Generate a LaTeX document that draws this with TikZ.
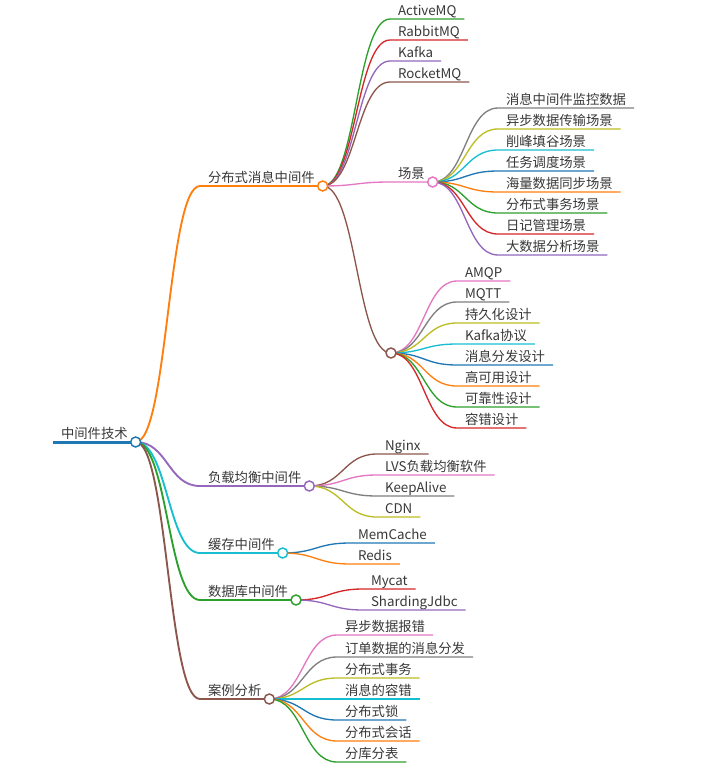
\documentclass[tikz,border=0pt]{standalone}
\usepackage{fontspec}
\setmainfont{Noto Sans CJK SC}
\usetikzlibrary{calc}
\definecolor{cblue}{HTML}{1F77B4}
\definecolor{corange}{HTML}{FF7F0E}
\definecolor{cgreen}{HTML}{2CA02C}
\definecolor{cred}{HTML}{D62728}
\definecolor{cpurple}{HTML}{9467BD}
\definecolor{cbrown}{HTML}{8C564B}
\definecolor{cpink}{HTML}{E377C2}
\definecolor{cgray}{HTML}{7F7F7F}
\definecolor{colive}{HTML}{BCBD22}
\definecolor{ccyan}{HTML}{17BECF}
\tikzset{
  lbl/.style={anchor=south west, inner xsep=6pt, inner ysep=1.5pt, outer sep=0pt,
    text height=.85em, text depth=.15em, text=black!78, font=\fontsize{10}{12}\selectfont},
  dot/.style={circle, draw=#1, fill=white, line width=1.1pt, minimum size=7.5pt, inner sep=0pt},
  e1/.style={line width=1.4pt},
  e2/.style={line width=1pt},
  link/.style={to path={.. controls ($(\tikztostart)!.5!(\tikztostart -| \tikztotarget)$)
    and ($(\tikztotarget)!.5!(\tikztotarget -| \tikztostart)$) .. (\tikztotarget)}},
}
\begin{document}
\begin{tikzpicture}[x=0.75pt, y=-0.75pt]
    \useasboundingbox (0,0) rectangle (701,772);
    % root
    \node[lbl] (mw) at (53,442) {中间件技术};
    \draw[cblue, line width=2.25pt] (mw.south west) -- (mw.south east);
    % level 1
    \node[lbl] (dmq) at (200,186) {分布式消息中间件};
    \node[lbl] (lb) at (200,486) {负载均衡中间件};
    \node[lbl] (cache) at (200,553) {缓存中间件};
    \node[lbl] (db) at (200,600) {数据库中间件};
    \node[lbl] (case) at (200,699) {案例分析};
    \draw[corange, e1] (mw.south east) to[link] (dmq.south west) -- (dmq.south east);
    \draw[cpurple, e1] (mw.south east) to[link] (lb.south west) -- (lb.south east);
    \draw[ccyan, e1] (mw.south east) to[link] (cache.south west) -- (cache.south east);
    \draw[cgreen, e1] (mw.south east) to[link] (db.south west) -- (db.south east);
    \draw[cbrown, e1] (mw.south east) to[link] (case.south west) -- (case.south east);
    % distributed message middleware
    \node[lbl] (amq) at (390,19) {ActiveMQ};
    \node[lbl] (rmq) at (390,40) {RabbitMQ};
    \node[lbl] (kafka) at (390,61) {Kafka};
    \node[lbl] (rkmq) at (390,82) {RocketMQ};
    \node[lbl] (scene) at (390,182) {场景};
    \coordinate (proto) at (391,353);
    \draw[cgreen, e2] (dmq.south east) to[link] (amq.south west) -- (amq.south east);
    \draw[cred, e2] (dmq.south east) to[link] (rmq.south west) -- (rmq.south east);
    \draw[cpurple, e2] (dmq.south east) to[link] (kafka.south west) -- (kafka.south east);
    \draw[cbrown, e2] (dmq.south east) to[link] (rkmq.south west) -- (rkmq.south east);
    \draw[cpink, e2] (dmq.south east) to[link] (scene.south west) -- (scene.south east);
    \draw[cbrown, e2] (dmq.south east) to[link] (proto);
    % scenes
    \node[lbl] (sc1) at (498,108) {消息中间件监控数据};
    \node[lbl] (sc2) at (498,129) {异步数据传输场景};
    \node[lbl] (sc3) at (498,150) {削峰填谷场景};
    \node[lbl] (sc4) at (498,171) {任务调度场景};
    \node[lbl] (sc5) at (498,192) {海量数据同步场景};
    \node[lbl] (sc6) at (498,213) {分布式事务场景};
    \node[lbl] (sc7) at (498,234) {日记管理场景};
    \node[lbl] (sc8) at (498,255) {大数据分析场景};
    \draw[cgray, e2] (scene.south east) to[link] (sc1.south west) -- (sc1.south east);
    \draw[colive, e2] (scene.south east) to[link] (sc2.south west) -- (sc2.south east);
    \draw[ccyan, e2] (scene.south east) to[link] (sc3.south west) -- (sc3.south east);
    \draw[cblue, e2] (scene.south east) to[link] (sc4.south west) -- (sc4.south east);
    \draw[corange, e2] (scene.south east) to[link] (sc5.south west) -- (sc5.south east);
    \draw[cgreen, e2] (scene.south east) to[link] (sc6.south west) -- (sc6.south east);
    \draw[cred, e2] (scene.south east) to[link] (sc7.south west) -- (sc7.south east);
    \draw[cpurple, e2] (scene.south east) to[link] (sc8.south west) -- (sc8.south east);
    % protocols and design
    \node[lbl] (pr1) at (457,281) {AMQP};
    \node[lbl] (pr2) at (457,302) {MQTT};
    \node[lbl] (pr3) at (457,323) {持久化设计};
    \node[lbl] (pr4) at (457,344) {Kafka协议};
    \node[lbl] (pr5) at (457,365) {消息分发设计};
    \node[lbl] (pr6) at (457,386) {高可用设计};
    \node[lbl] (pr7) at (457,407) {可靠性设计};
    \node[lbl] (pr8) at (457,428) {容错设计};
    \draw[cpink, e2] (proto) to[link] (pr1.south west) -- (pr1.south east);
    \draw[cgray, e2] (proto) to[link] (pr2.south west) -- (pr2.south east);
    \draw[colive, e2] (proto) to[link] (pr3.south west) -- (pr3.south east);
    \draw[ccyan, e2] (proto) to[link] (pr4.south west) -- (pr4.south east);
    \draw[cblue, e2] (proto) to[link] (pr5.south west) -- (pr5.south east);
    \draw[corange, e2] (proto) to[link] (pr6.south west) -- (pr6.south east);
    \draw[cgreen, e2] (proto) to[link] (pr7.south west) -- (pr7.south east);
    \draw[cred, e2] (proto) to[link] (pr8.south west) -- (pr8.south east);
    % load balancing
    \node[lbl] (nginx) at (377,454) {Nginx};
    \node[lbl] (lvs) at (377,475) {LVS负载均衡软件};
    \node[lbl] (keep) at (377,496) {KeepAlive};
    \node[lbl] (cdn) at (377,517) {CDN};
    \draw[cbrown, e2] (lb.south east) to[link] (nginx.south west) -- (nginx.south east);
    \draw[cpink, e2] (lb.south east) to[link] (lvs.south west) -- (lvs.south east);
    \draw[cgray, e2] (lb.south east) to[link] (keep.south west) -- (keep.south east);
    \draw[colive, e2] (lb.south east) to[link] (cdn.south west) -- (cdn.south east);
    % cache
    \node[lbl] (memc) at (350,543) {MemCache};
    \node[lbl] (redis) at (350,564) {Redis};
    \draw[cblue, e2] (cache.south east) to[link] (memc.south west) -- (memc.south east);
    \draw[corange, e2] (cache.south east) to[link] (redis.south west) -- (redis.south east);
    % database
    \node[lbl] (mycat) at (363,589) {Mycat};
    \node[lbl] (shard) at (363,610) {ShardingJdbc};
    \draw[cred, e2] (db.south east) to[link] (mycat.south west) -- (mycat.south east);
    \draw[cpurple, e2] (db.south east) to[link] (shard.south west) -- (shard.south east);
    % cases
    \node[lbl] (cs1) at (337,635) {异步数据报错};
    \node[lbl] (cs2) at (337,657) {订单数据的消息分发};
    \node[lbl] (cs3) at (337,678) {分布式事务};
    \node[lbl] (cs4) at (337,699) {消息的容错};
    \node[lbl] (cs5) at (337,720) {分布式锁};
    \node[lbl] (cs6) at (337,741) {分布式会话};
    \node[lbl] (cs7) at (337,762) {分库分表};
    \draw[cpink, e2] (case.south east) to[link] (cs1.south west) -- (cs1.south east);
    \draw[cgray, e2] (case.south east) to[link] (cs2.south west) -- (cs2.south east);
    \draw[colive, e2] (case.south east) to[link] (cs3.south west) -- (cs3.south east);
    \draw[ccyan, e2] (case.south east) to[link] (cs4.south west) -- (cs4.south east);
    \draw[cblue, e2] (case.south east) to[link] (cs5.south west) -- (cs5.south east);
    \draw[corange, e2] (case.south east) to[link] (cs6.south west) -- (cs6.south east);
    \draw[cgreen, e2] (case.south east) to[link] (cs7.south west) -- (cs7.south east);
    % circles on branching nodes
    \node[dot=cblue] (mw-o) at (mw.south east) {};
    \node[dot=corange] (dmq-o) at (dmq.south east) {};
    \node[dot=cpink] (scene-o) at (scene.south east) {};
    \node[dot=cbrown] (proto-o) at (proto) {};
    \node[dot=cpurple] (lb-o) at (lb.south east) {};
    \node[dot=ccyan] (cache-o) at (cache.south east) {};
    \node[dot=cgreen] (db-o) at (db.south east) {};
    \node[dot=cbrown] (case-o) at (case.south east) {};
\end{tikzpicture}
\end{document}
